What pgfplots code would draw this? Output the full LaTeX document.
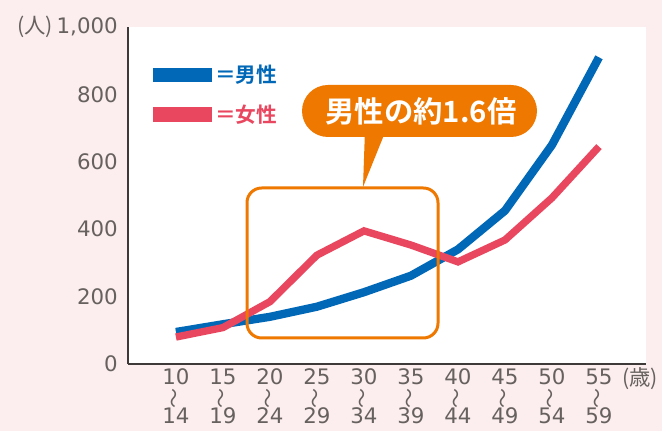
\documentclass[border=0pt]{standalone}
\usepackage{fontspec}
\setmainfont{Noto Sans CJK JP}[BoldFont={Noto Sans CJK JP Bold}]
\newfontfamily\cjk{Noto Sans CJK JP}
\newfontfamily\numfont{DejaVu Sans}
\usepackage{graphicx}
\usepackage{pgfplots}
\pgfplotsset{compat=1.18}
\definecolor{bgpink}{HTML}{FCEEEF}
\definecolor{mblue}{HTML}{0068B7}
\definecolor{fpink}{HTML}{E9475F}
\definecolor{corange}{HTML}{EE7800}
\definecolor{axc}{HTML}{3E3A39}
\definecolor{tickc}{HTML}{66615F}
\newcommand\wv{\smash{\rotatebox[origin=c]{90}{\cjk\fontsize{15}{15}\selectfont ～}}}
\begin{document}
\begin{tikzpicture}
\useasboundingbox (0,0) rectangle (496.5pt,323.25pt);
\fill[bgpink] (0,0) rectangle (496.5pt,323.25pt);
\begin{axis}[
  at={(96pt,50.25pt)}, anchor=south west,
  scale only axis, width=388.5pt, height=252.75pt,
  xmin=-1.02, xmax=10, ymin=0, ymax=1000,
  axis x line=bottom, axis y line=left,
  axis line style={draw=axc, line width=2pt, -},
  axis background/.style={fill=white},
  major tick length=0pt,
  xtick={0,...,9},
  xticklabels={{10\\\wv\\14},{15\\\wv\\19},{20\\\wv\\24},{25\\\wv\\29},{30\\\wv\\34},{35\\\wv\\39},{40\\\wv\\44},{45\\\wv\\49},{50\\\wv\\54},{55\\\wv\\59}},
  ytick={0,200,400,600,800,1000},
  yticklabels={0,200,400,600,800,{1,000}},
  tick label style={text=tickc, font=\numfont\fontsize{16}{14.5}\selectfont, inner sep=0pt},
  xticklabel style={anchor=north, align=center, yshift=-3.5pt},
  yticklabel style={anchor=east, xshift=-7.5pt},
  clip=false,
]
\addplot[mblue, line width=6.2pt] coordinates {(0,95) (1,118) (2,140) (3,170) (4,213) (5,262) (6,340) (7,455) (8,650) (9,910)};
\addplot[fpink, line width=5.5pt] coordinates {(0,80) (1,108) (2,185) (3,323) (4,395) (5,353) (6,303) (7,368) (8,493) (9,645)};
\end{axis}
\begin{scope}[x=0.75pt,y=-0.75pt,yshift=323.25pt]
  % legend
  \fill[mblue] (153,68) rectangle (212,82);
  \node[anchor=west, inner sep=0pt, text=mblue, font=\bfseries\fontsize{15.5}{15.5}\selectfont] at (215,75) {＝男性};
  \fill[fpink] (153,107) rectangle (212,122);
  \node[anchor=west, inner sep=0pt, text=fpink, font=\bfseries\fontsize{15.5}{15.5}\selectfont] at (215,114.5) {＝女性};
  % unit labels
  \node[text=tickc, inner sep=0pt, font=\fontsize{16}{16}\selectfont] at (35,27) {(人)};
  \node[text=tickc, inner sep=0pt, font=\fontsize{16}{16}\selectfont] at (640,379) {(歳)};
  % callout
  \fill[corange, rounded corners=19.5pt] (302,85) rectangle (537,137);
  \fill[corange] (365,130) -- (386,130) -- (363,187) -- cycle;
  \node[text=white, font=\bfseries\fontsize{22}{22}\selectfont] at (421,111) {男性の約1.6倍};
  % box
  \draw[corange, line width=2.25pt, rounded corners=11pt] (247,188) rectangle (438,338);
\end{scope}
\end{tikzpicture}
\end{document}
